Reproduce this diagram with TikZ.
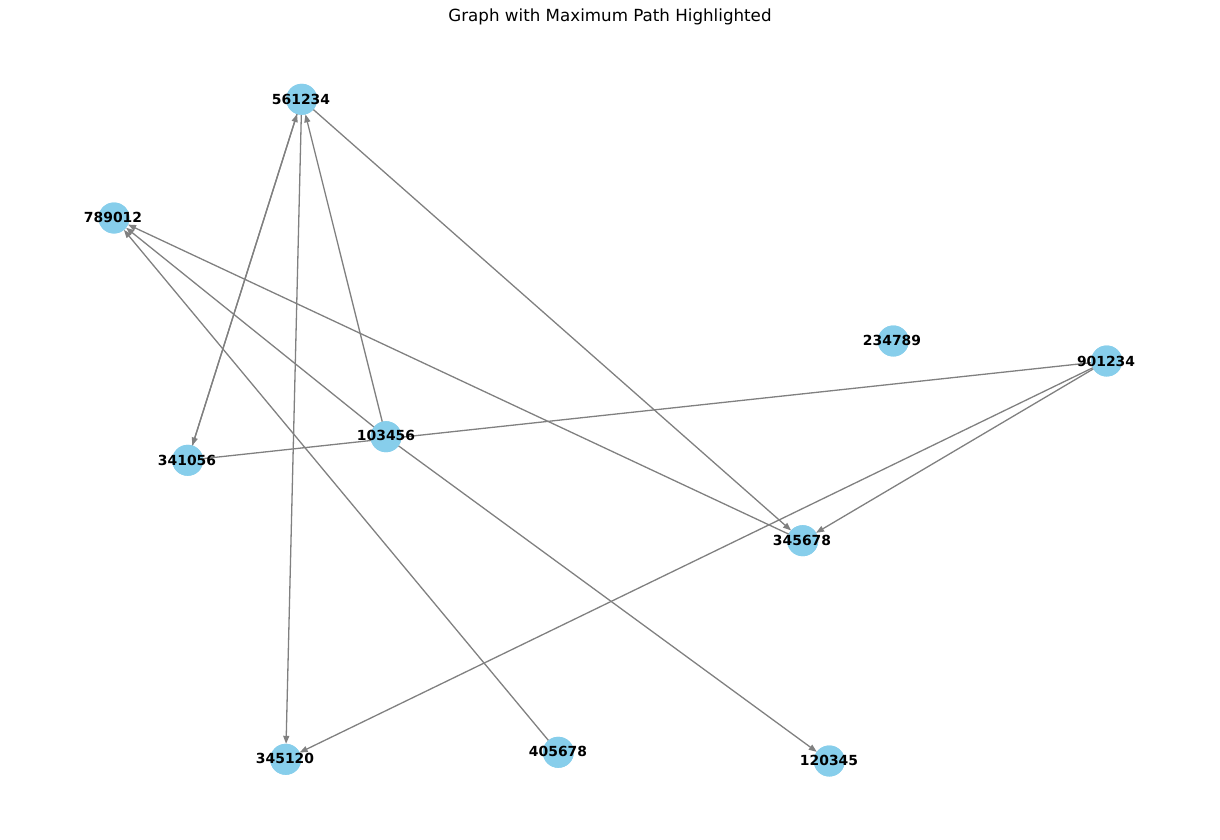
\documentclass[tikz,border=0pt]{standalone}
\usepackage{fontspec}
\setmainfont{DejaVu Sans}
\usetikzlibrary{arrows.meta}
\definecolor{skyblue}{HTML}{87CEEB}
\definecolor{edgegray}{HTML}{808080}
\tikzset{
  vtx/.style={circle,fill=skyblue,draw=none,minimum size=31pt,inner sep=0pt,outer sep=0pt},
  lbl/.style={font=\fontsize{13.9pt}{14pt}\selectfont\bfseries,inner sep=0pt,text=black},
  edge/.style={draw=edgegray,line width=1.3pt,-{Triangle[length=8pt,width=6pt]}},
  plain/.style={draw=edgegray,line width=1.3pt},
}
\begin{document}
\begin{tikzpicture}[x=1pt,y=-1pt]
\useasboundingbox (0,0) rectangle (1220,840);
\node[font=\fontsize{16.7pt}{18pt}\selectfont,inner sep=0pt] (title) at (610,17) {Graph with Maximum Path Highlighted};
% node shapes (used for edge anchoring)
\node[vtx] (n561234) at (301.7,99.3) {};
\node[vtx] (n789012) at (114,218) {};
\node[vtx] (n234789) at (893.3,341) {};
\node[vtx] (n901234) at (1106.7,361) {};
\node[vtx] (n103456) at (386,436.7) {};
\node[vtx] (n341056) at (187.7,460.3) {};
\node[vtx] (n345678) at (802.7,540.7) {};
\node[vtx] (n345120) at (285.7,759.3) {};
\node[vtx] (n405678) at (558.3,752.3) {};
\node[vtx] (n120345) at (829.3,761) {};
% edges
\path[edge] (n561234) -- (n341056);
\path[edge] ([xshift=1pt]n341056) -- ([xshift=1pt]n561234);
\path[edge] (n103456) -- (n561234);
\path[edge] (n561234) -- (n345120);
\path[edge] (n561234) -- (n345678);
\path[edge] (n103456) -- (n789012);
\path[edge] (n345678) -- (n789012);
\path[edge] (n405678) -- (n789012);
\path[plain] (n901234) -- (n341056);
\path[edge] (n901234) -- (n345120);
\path[edge] (n901234) -- (n345678);
\path[edge] (n103456) -- (n120345);
% redraw node discs on top of the edges
\foreach \n in {n561234,n789012,n234789,n901234,n103456,n341056,n345678,n345120,n405678,n120345}
  \fill[skyblue] (\n) circle (15.5pt);
% labels
\node[lbl] (l561234) at (301,99) {561234};
\node[lbl] (l789012) at (113,217) {789012};
\node[lbl] (l234789) at (892,340) {234789};
\node[lbl] (l901234) at (1106,361) {901234};
\node[lbl] (l103456) at (386,435) {103456};
\node[lbl] (l341056) at (187,460) {341056};
\node[lbl] (l345678) at (802,540) {345678};
\node[lbl] (l345120) at (285,758) {345120};
\node[lbl] (l405678) at (558,751) {405678};
\node[lbl] (l120345) at (829,760) {120345};
\end{tikzpicture}
\end{document}
